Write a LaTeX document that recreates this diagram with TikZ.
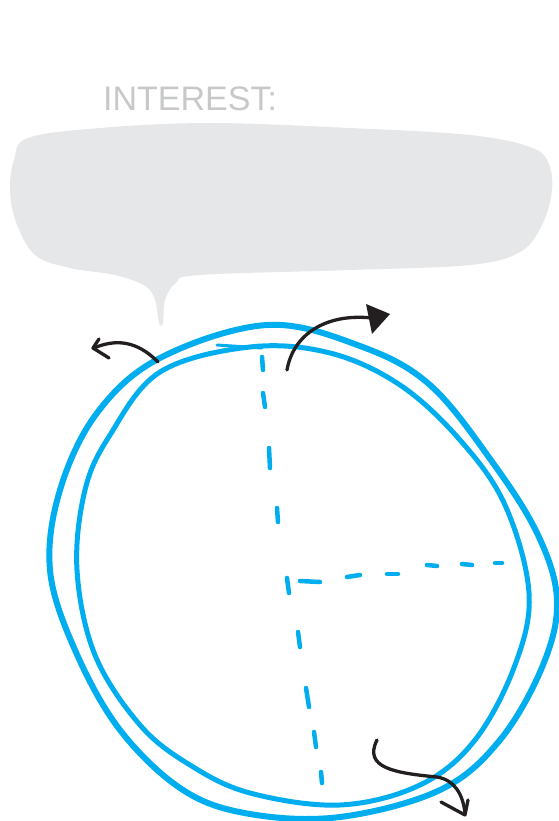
\documentclass[tikz,border=0pt]{standalone}
\usepackage{fontspec}
\setmainfont{Liberation Sans}
\definecolor{bubblegray}{HTML}{E6E7E8}
\definecolor{textgray}{HTML}{C7C8CA}
\definecolor{ringblue}{HTML}{00AEEF}
\definecolor{inkblack}{HTML}{231F20}
\tikzset{
  ringouter/.style={draw=ringblue,line width=6pt,line join=round},
  ringinner/.style={draw=ringblue,line width=5pt,line join=round},
  dashseg/.style={draw=ringblue,line width=4.5pt,line cap=round},
  inkline/.style={draw=inkblack,line width=3.3pt,line cap=round,line join=round},
}
\begin{document}
\begin{tikzpicture}[x=1pt,y=-1pt]
\useasboundingbox (0,0) rectangle (558,821);
% title
\node[anchor=base west,inner sep=0pt,text=textgray,font=\fontsize{34}{34}\selectfont] (title) at (103,111) {INTEREST:};
% speech bubble
\fill[bubblegray] plot[smooth cycle,tension=0.6] coordinates {
 (28,138) (100,128) (210,123) (350,128) (470,135) (530,147) (548,162) (552,190)
 (542,225) (520,252) (470,265) (350,270) (200,275) (176,283) (165,300) (163,323)
 (159,323) (155,300) (145,286) (115,275) (70,268) (35,255) (16,222) (10,190) (14,160)};
% outer ring
\draw[ringouter] plot[smooth cycle,tension=0.6] coordinates {
 (267,325) (360,346) (430,385) (493,463) (538,535) (557,600) (543,665)
 (500,740) (440,790) (340,817) (250,814) (183,790) (120,730) (75,650)
 (50,570) (60,490) (97,413) (160,358)};
% inner ring
\draw[ringinner] plot[smooth cycle,tension=0.6] coordinates {
 (250,347) (330,353) (400,385) (460,440) (505,505) (529,593) (515,665)
 (475,740) (420,785) (340,805) (250,793) (190,765) (140,725) (95,655)
 (77,570) (85,490) (110,435) (160,372)};
\draw[ringblue,line width=3pt,line cap=round] (217,345) -- (262,348);
% vertical dashes
\foreach \a/\b/\c/\d in {262/357/263/370, 263/393/265/407, 269/448/270/468,
  277/508/278/522, 287/578/289/593, 298/632/300/647, 306/688/309/707,
  314/732/316/747, 321/772/322/783}
  \draw[dashseg] (\a,\b) -- (\c,\d);
% horizontal dashes
\foreach \a/\b/\c/\d in {300/581/320/582, 347/577/360/575, 387/574/398/574,
  427/565/437/566, 462/564/472/565, 495/563/502/563}
  \draw[dashseg] (\a,\b) -- (\c,\d);
% left arrow
\draw[inkline] (158,362) .. controls (142,346) and (122,336) .. (94,348);
\draw[inkline] (99,339) -- (93,348) -- (109,358);
% top arrow
\draw[inkline] (287,370) .. controls (293,335) and (325,313) .. (372,318);
\fill[inkblack] (366,304) -- (390,314) -- (372,334) -- cycle;
% bottom arrow
\draw[inkline] (377,740) .. controls (363,768) and (395,773) .. (437,777)
  .. controls (455,780) and (463,795) .. (465,813);
\draw[inkline] (441,802) -- (465,815) -- (468,800);
\end{tikzpicture}
\end{document}
